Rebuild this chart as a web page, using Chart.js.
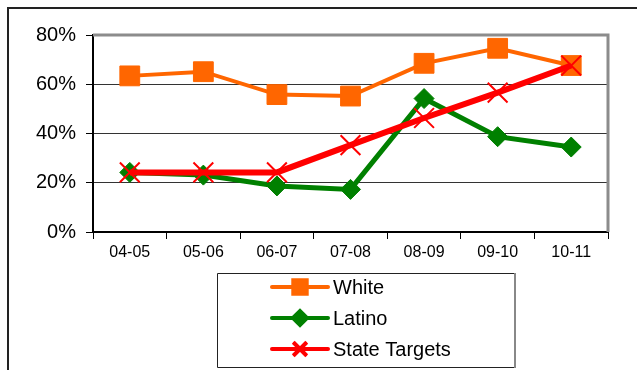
<!DOCTYPE html>
<html>
<head>
<meta charset="utf-8">
<script src="https://cdn.jsdelivr.net/npm/chart.js@4.4.1/dist/chart.umd.min.js"></script>
<style>
  html, body { margin: 0; padding: 0; background: #fff; }
  #wrap { width: 637px; height: 370px; position: relative; }
</style>
</head>
<body>
<div id="wrap"><canvas id="c" width="637" height="370"></canvas></div>
<script>
const categories = ['04-05', '05-06', '06-07', '07-08', '08-09', '09-10', '10-11'];
const whiteValues = [63.4, 65.1, 55.8, 55.2, 68.5, 74.6, 67.6];
const latinoValues = [24.2, 23.1, 18.7, 17.3, 54.2, 38.7, 34.5];
const targetValues = [24.2, 24.2, 24.2, 35.3, 46.3, 56.6, 67.6];
const yTickValues = [0, 20, 40, 60, 80];
const seriesLabels = ['White', 'Latino', 'State Targets'];

const FONT = '"Liberation Sans", Arial, sans-serif';

const frameAndLegend = {
  id: 'frameAndLegend',
  beforeDraw(chart) {
    const ctx = chart.ctx;
    ctx.save();
    ctx.fillStyle = '#fff';
    ctx.fillRect(0, 0, chart.width, chart.height);
    ctx.strokeStyle = '#222';
    ctx.lineWidth = 2;
    ctx.strokeRect(8, 8, 700, 400);
    ctx.restore();
  },
  beforeDatasetsDraw(chart) {
    const a = chart.chartArea;
    const ctx = chart.ctx;
    ctx.save();
    ctx.strokeStyle = '#8c8c8c';
    ctx.lineWidth = 3;
    ctx.beginPath();
    ctx.moveTo(a.left, a.top);
    ctx.lineTo(a.right, a.top);
    ctx.lineTo(a.right, a.bottom);
    ctx.stroke();
    ctx.restore();
  },
  afterDraw(chart) {
    const ctx = chart.ctx;
    ctx.save();
    // legend box
    const bx = 217, by = 273, bw = 298, bh = 94;
    ctx.strokeStyle = '#222';
    ctx.lineWidth = 1;
    ctx.beginPath();
    ctx.moveTo(bx + 0.5, by + 0.5);
    ctx.lineTo(bx + bw, by + 0.5);
    ctx.moveTo(bx + 0.5, by + 0.5);
    ctx.lineTo(bx + 0.5, by + bh + 0.5);
    ctx.lineTo(bx + bw, by + bh + 0.5);
    ctx.stroke();
    ctx.strokeStyle = '#888';
    ctx.lineWidth = 2;
    ctx.beginPath();
    ctx.moveTo(bx + bw, by);
    ctx.lineTo(bx + bw, by + bh + 1);
    ctx.stroke();

    const rows = [287, 318, 349];
    const markerSizes = [9.5, 7, 9.5];
    chart.data.datasets.forEach((ds, i) => {
      const y = rows[i];
      ctx.strokeStyle = ds.borderColor;
      ctx.lineWidth = 4;
      ctx.lineCap = 'round';
      ctx.beginPath();
      ctx.moveTo(272, y);
      ctx.lineTo(328, y);
      ctx.stroke();
      ctx.lineCap = 'butt';
      Chart.helpers.drawPoint(ctx, {
        pointStyle: ds.pointStyle,
        radius: markerSizes[i],
        borderWidth: ds.pointBorderWidth,
        rotation: 0
      }, 300, y);
      ctx.fillStyle = ds.pointBackgroundColor;
      ctx.strokeStyle = ds.pointBorderColor;
      ctx.lineWidth = ds.pointBorderWidth;
      ctx.fill();
      ctx.stroke();
      ctx.fillStyle = '#000';
      ctx.font = '20px ' + FONT;
      ctx.textBaseline = 'middle';
      ctx.textAlign = 'left';
      ctx.fillText(ds.label, 333, y + 1);
    });
    ctx.restore();
  }
};

new Chart(document.getElementById('c'), {
  type: 'line',
  data: {
    labels: categories,
    datasets: [
      {
        label: seriesLabels[0],
        data: whiteValues,
        borderColor: '#ff6600',
        backgroundColor: '#ff6600',
        borderWidth: 4,
        pointStyle: 'rect',
        pointRadius: 14,
        pointBackgroundColor: '#ff6600',
        pointBorderColor: '#ff6600',
        pointBorderWidth: 1,
        order: 2
      },
      {
        label: seriesLabels[1],
        data: latinoValues,
        borderColor: '#008000',
        backgroundColor: '#008000',
        borderWidth: 5,
        pointStyle: 'rectRot',
        pointRadius: 10,
        pointBackgroundColor: '#008000',
        pointBorderColor: '#008000',
        pointBorderWidth: 1,
        order: 1
      },
      {
        label: seriesLabels[2],
        data: targetValues,
        borderColor: '#ff0000',
        backgroundColor: '#ff0000',
        borderWidth: 6,
        pointStyle: 'crossRot',
        pointRadius: 14,
        pointBackgroundColor: '#ff0000',
        pointBorderColor: '#ff0000',
        pointBorderWidth: 2,
        order: 0
      }
    ]
  },
  options: {
    responsive: false,
    animation: false,
    devicePixelRatio: 1,
    layout: { padding: { left: 0, right: 29, top: 35, bottom: 108 } },
    plugins: {
      legend: { display: false },
      tooltip: { enabled: false },
      title: { display: false }
    },
    elements: { line: { tension: 0 } },
    scales: {
      x: {
        offset: true,
        grid: {
          offset: true,
          drawOnChartArea: false,
          drawTicks: true,
          tickLength: 7,
          color: '#000',
          tickColor: '#000'
        },
        border: { color: '#000', width: 2 },
        ticks: {
          color: '#000',
          font: { family: FONT, size: 16 },
          padding: 4,
          maxRotation: 0,
          autoSkip: false
        },
        afterFit(scale) { scale.height = 30; }
      },
      y: {
        min: 0,
        max: 80,
        afterBuildTicks(scale) { scale.ticks = yTickValues.map(v => ({ value: v })); },
        grid: {
          color: '#333',
          tickColor: '#000',
          tickLength: 7,
          lineWidth: 1
        },
        border: { color: '#000', width: 2 },
        ticks: {
          color: '#000',
          font: { family: FONT, size: 20 },
          padding: 10,
          callback: v => v + '%'
        },
        afterFit(scale) { scale.width = 93; }
      }
    }
  },
  plugins: [frameAndLegend]
});
</script>
</body>
</html>
